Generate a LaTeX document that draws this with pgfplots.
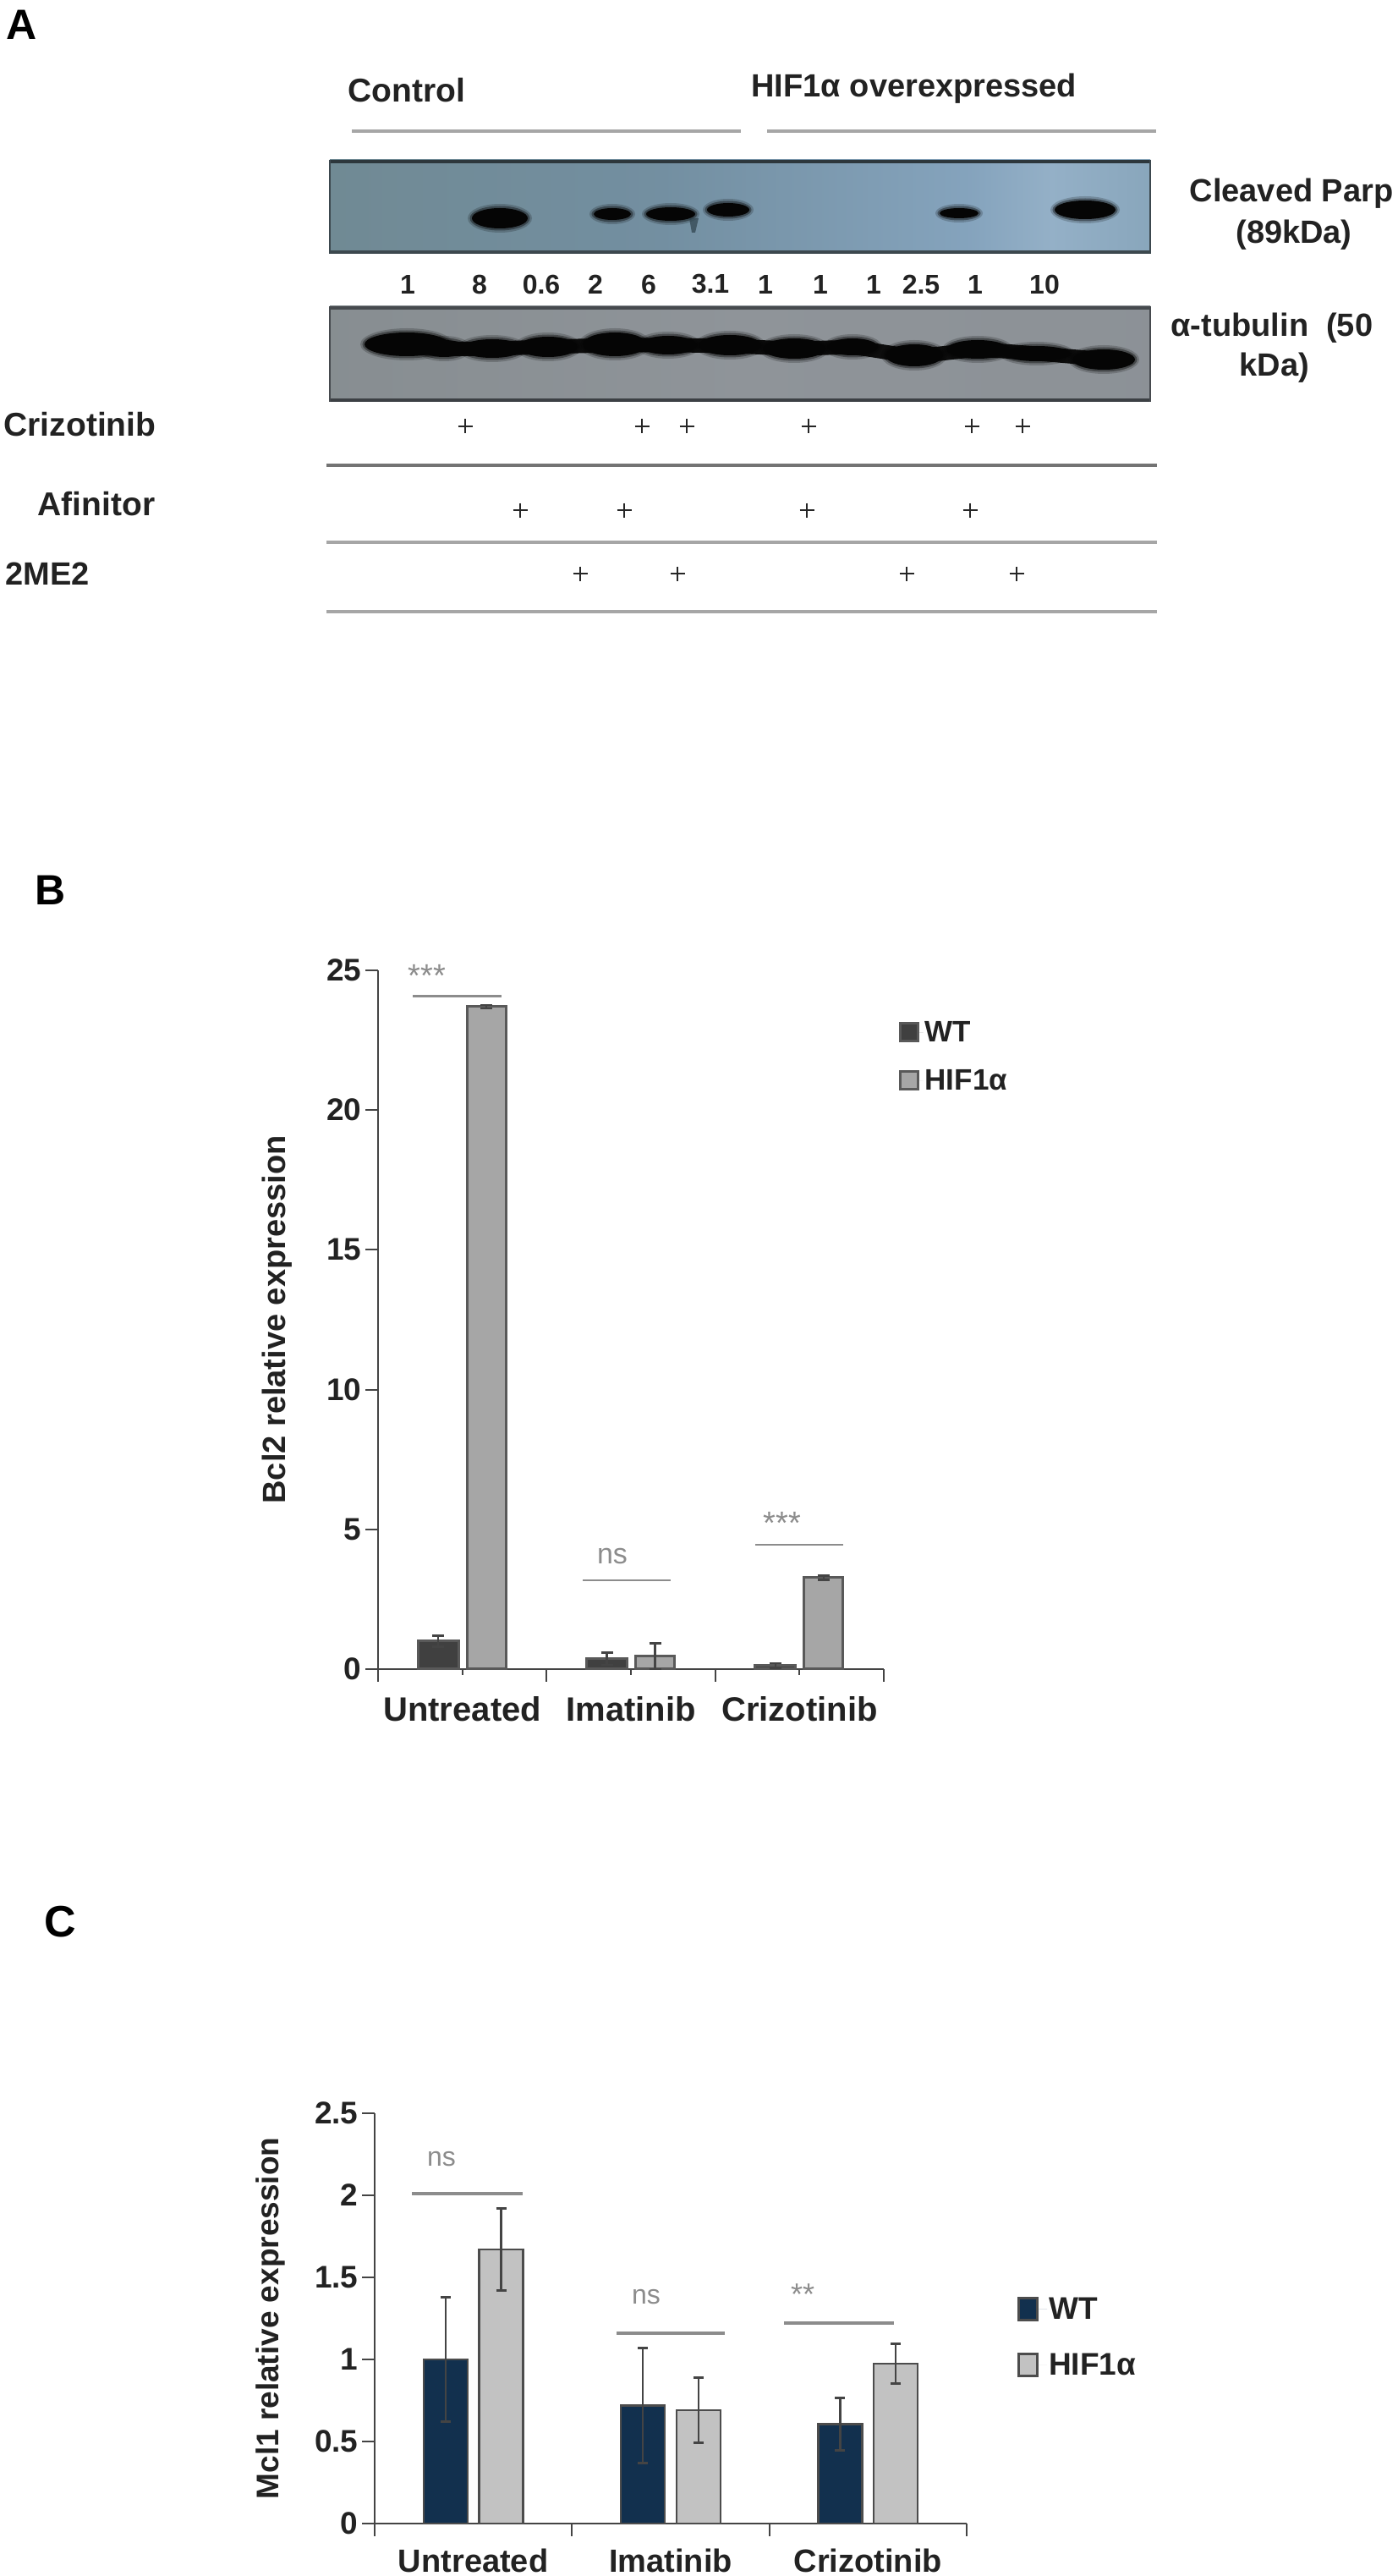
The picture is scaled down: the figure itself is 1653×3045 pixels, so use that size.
\documentclass[border=0pt]{standalone}
\usepackage{fontspec}
\setmainfont{Liberation Sans}
\usepackage{pgfplots}
\usepackage{pgfplotstable}
\pgfplotsset{compat=1.18}
\newcommand\fs[1]{\fontsize{#1}{#1}\selectfont}
\definecolor{axgray}{HTML}{444444}
\definecolor{sig}{HTML}{8C8C8C}
\definecolor{wtb}{HTML}{404040}
\definecolor{hifb}{HTML}{A6A6A6}
\definecolor{wtc}{HTML}{12304E}
\definecolor{hifc}{HTML}{C2C2C2}
\definecolor{lab}{HTML}{222222}
\pgfdeclarehorizontalshading{blotone}{100bp}{
  rgb(0bp)=(0.42,0.50,0.53);
  rgb(25bp)=(0.44,0.54,0.58);
  rgb(45bp)=(0.45,0.56,0.63);
  rgb(64bp)=(0.52,0.64,0.74);
  rgb(69bp)=(0.58,0.69,0.78);
  rgb(80bp)=(0.50,0.62,0.70);
  rgb(90bp)=(0.52,0.64,0.74);
  rgb(100bp)=(0.46,0.58,0.66)}
\pgfdeclarehorizontalshading{blottwo}{100bp}{
  rgb(0bp)=(0.50,0.53,0.54);
  rgb(50bp)=(0.56,0.58,0.60);
  rgb(100bp)=(0.54,0.56,0.58)}
\newcommand\band[5][10161C]{%
  \definecolor{bc}{HTML}{#1}%
  \fill[bc,opacity=.2] (#2,#3) ellipse [x radius=#4pt+5pt,y radius=#5pt+5pt];
  \fill[bc,opacity=.4] (#2,#3) ellipse [x radius=#4pt+2.5pt,y radius=#5pt+2.5pt];
  \fill[bc] (#2,#3) ellipse [x radius=#4pt,y radius=#5pt];
}
\pgfplotstableread{
x y e
0.357 1.0 0.2
1.357 0.37 0.22
2.357 0.13 0.08
}\bwt
\pgfplotstableread{
x y e
0.643 23.7 0.06
1.643 0.46 0.46
2.643 3.27 0.08
}\bhif
\pgfplotstableread{
x y e
0.359 1.0 0.38
1.359 0.72 0.35
2.359 0.605 0.16
}\cwt
\pgfplotstableread{
x y e
0.641 1.67 0.25
1.641 0.69 0.2
2.641 0.975 0.12
}\chif
\pgfplotsset{
  chart/.style={
    scale only axis, xmin=0, xmax=3, ymin=0,
    axis x line=bottom, axis y line=left,
    axis line style={-,axgray,line width=2.5pt},
    tick align=outside,
    every tick/.style={axgray,line width=2pt},
    major tick length=7pt, minor tick length=15pt,
    xtick={0.5,1.5,2.5},
    xticklabels={Untreated,Imatinib,Crizotinib},
    minor xtick={0,1,2,3},
    y tick label style={font=\bfseries\fs{37},text=lab,xshift=-9pt},
    /pgf/number format/assume math mode=true,
    /pgf/number format/fixed,
    clip=false,
    legend cell align=left,
    legend style={draw=none,fill=none,text=lab,inner sep=0pt},
  },
}
\begin{document}
\begin{tikzpicture}[x=1pt,y=1pt]
\path[use as bounding box] (0,0) rectangle (1653pt,3045pt);
\begin{axis}[at={(0,0)},anchor=south west,scale only axis,width=1653pt,height=3045pt,
  xmin=0,xmax=1653,ymin=0,ymax=3045,y dir=reverse,hide axis,clip=false]
% panel letters
\node[font=\bfseries\fs{50},anchor=west] at (4,29) {A};
\node[font=\bfseries\fs{50},anchor=west] at (38,1052) {B};
\node[font=\bfseries\fs{52},anchor=west] at (49,2272) {C};
% header
\node[font=\bfseries\fs{39},anchor=west,text=lab] at (408,107) {Control};
\node[font=\bfseries\fs{38},anchor=west,text=lab] at (885,105) {HIF1α overexpressed};
\draw[color=black!35,line width=3.5pt] (416,155) -- (876,155);
\draw[color=black!35,line width=3.5pt] (907,155) -- (1367,155);
% blot 1
\path[shading=blotone] (390,189) rectangle (1360,300);
\draw[color={rgb,255:red,45;green,55;blue,60},line width=4pt] (390,191) -- (1360,191);
\draw[color={rgb,255:red,60;green,72;blue,78},line width=4pt] (390,298) -- (1360,298);
\draw[color={rgb,255:red,60;green,72;blue,78},line width=2pt] (390,189) -- (390,300);
\draw[color={rgb,255:red,60;green,72;blue,78},line width=2pt] (1360,189) -- (1360,300);
\band{591}{258}{33}{12}
\band[2E414C]{724}{253}{22}{7}
\band[141C24]{793}{253}{29}{8}
\band[1E2C36]{861}{248}{25}{8}
\band[3A4E5E]{1134}{252}{23}{6}
\band{1283}{248}{36}{11}
\fill[color={rgb,255:red,45;green,65;blue,75},opacity=.7] (815,258) -- (826,258) -- (822,275) -- (818,275) -- cycle;
% quantification
\foreach \t/\x in {1/482,8/567,0.6/640,2/704,6/767,3.1/840,1/905,1/970,1/1033,2.5/1089,1/1153,10/1235}{
  \edef\tmp{\noexpand\node[font=\noexpand\bfseries\noexpand\fs{32},text=lab] at (\x,336) {\t};}\tmp
}
% blot 2
\path[shading=blottwo] (390,362) rectangle (1360,475);
\draw[color={rgb,255:red,70;green,74;blue,78},line width=3.5pt] (390,364) -- (1360,364);
\draw[color={rgb,255:red,60;green,64;blue,68},line width=3.5pt] (390,473) -- (1360,473);
\draw[color={rgb,255:red,70;green,74;blue,78},line width=2pt] (390,362) -- (390,475);
\draw[color={rgb,255:red,70;green,74;blue,78},line width=2pt] (1360,362) -- (1360,475);
\addplot[smooth,color=black!95,line width=17pt,line cap=round] coordinates {(450,408)(525,412)(582,412)(648,410)(727,408)(790,408)(863,409)(939,412)(1008,411)(1081,420)(1156,414)(1226,418)(1320,426)};
\band[050505]{481}{407}{50}{14}
\band[050505]{525}{412}{28}{10}
\band[050505]{582}{412}{37}{11}
\band[050505]{648}{410}{35}{12}
\band[050505]{727}{407}{38}{14}
\band[050505]{790}{408}{34}{11}
\band[050505]{863}{408}{37}{12}
\band[050505]{939}{412}{37}{12}
\band[050505]{1008}{410}{30}{10}
\band[050505]{1081}{420}{34}{13}
\band[050505]{1156}{413}{37}{11}
\band[050505]{1226}{418}{40}{9}
\band[050505]{1305}{425}{37}{12}
% right labels
\node[font=\bfseries\fs{38},text=lab] at (1527,229) {Cleaved Parp};
\node[font=\bfseries\fs{38},text=lab] at (1530,278) {(89kDa)};
\node[font=\bfseries\fs{38},text=lab,anchor=west] at (1381,388) {α-tubulin\ \ (50};
\node[font=\bfseries\fs{38},text=lab] at (1507,435) {kDa)};
% treatments
\node[font=\bfseries\fs{39},text=lab,anchor=west] at (1,502) {Crizotinib};
\node[font=\bfseries\fs{39},text=lab,anchor=west] at (41,596) {Afinitor};
\node[font=\bfseries\fs{38},text=lab,anchor=west] at (3,678) {2ME2};
\addplot[only marks,mark=+,mark size=8.5pt,line width=2.8pt,color=black!85] coordinates {(550,504)(759,504)(812,504)(956,504)(1149,504)(1209,504)(615,603)(738,603)(954,603)(1147,603)(686,678)(801,678)(1072,678)(1202,678)};
\draw[color=black!55,line width=3.5pt] (386,550) -- (1368,550);
\draw[color=black!35,line width=3.5pt] (386,641) -- (1368,641);
\draw[color=black!35,line width=3.5pt] (386,723) -- (1368,723);
% significance B
\draw[sig,line width=3pt] (488,1177) -- (593,1177);
\draw[sig,line width=2.5pt] (689,1868) -- (793,1868);
\draw[sig,line width=2.5pt] (893,1826) -- (997,1826);
\node[font=\fs{38},text=sig] at (505,1153) {***};
\node[font=\fs{34},text=sig] at (724,1840) {ns};
\node[font=\fs{38},text=sig] at (925,1800) {***};
% significance C
\draw[sig,line width=3.5pt] (487,2593) -- (618,2593);
\draw[sig,line width=3.5pt] (729,2758) -- (857,2758);
\draw[sig,line width=3.5pt] (927,2746) -- (1057,2746);
\node[font=\fs{32},text=sig] at (522,2552) {ns};
\node[font=\fs{32},text=sig] at (764,2715) {ns};
\node[font=\fs{36},text=sig] at (949,2712) {**};
\end{axis}
% Chart B
\begin{axis}[chart,at={(447pt,1072pt)},anchor=south west,width=598pt,height=826pt,
  ymax=25,ytick={0,5,10,15,20,25},minor ytick={0,5,10,15,20,25},
  x tick label style={font=\bfseries\fs{40},text=lab,anchor=base,yshift=-55pt},
  ylabel={Bcl2 relative expression},
  ylabel style={at={(axis description cs:-0.2,0.5)},anchor=center,font=\bfseries\fs{38},text=lab},
  legend style={at={(1.03,0.929)},anchor=north west,font=\bfseries\fs{35},row sep=27pt},
  legend image code/.code={\path[draw=none] (0,0) -- (27pt,0);\draw[#1,line width=3pt] (0,-10pt) rectangle (21pt,11pt);},
  ]
\addplot[ybar,bar width=48pt,bar shift=0pt,fill=wtb,draw=black!65,line width=3pt,
  error bars/.cd,y dir=both,y explicit,error bar style={line width=2.5pt,color=axgray},error mark options={rotate=90,mark size=7pt,line width=2.5pt,color=axgray}]
  table[x=x,y=y,y error=e] {\bwt};
\addlegendentry{WT}
\addplot[ybar,bar width=46pt,bar shift=0pt,fill=hifb,draw=black!65,line width=3pt,
  error bars/.cd,y dir=both,y explicit,error bar style={line width=2.5pt,color=axgray},error mark options={rotate=90,mark size=7pt,line width=2.5pt,color=axgray}]
  table[x=x,y=y,y error=e] {\bhif};
\addlegendentry{HIF1α}
\end{axis}
% Chart C
\begin{axis}[chart,at={(443pt,62pt)},anchor=south west,width=700pt,height=485pt,
  ymax=2.5,ytick={0,0.5,1,1.5,2,2.5},yticklabels={0,0.5,1,1.5,2,2.5},minor ytick={0,0.5,1,1.5,2,2.5},
  major x tick style={draw=none},
  x tick label style={font=\bfseries\fs{38},text=lab,anchor=base,yshift=-50pt},
  ylabel={Mcl1 relative expression},
  ylabel style={at={(axis description cs:-0.176,0.5)},anchor=center,font=\bfseries\fs{37},text=lab},
  legend style={at={(1.085,0.555)},anchor=north west,font=\bfseries\fs{37},row sep=35pt},
  legend image code/.code={\path[draw=none] (0,0) -- (34pt,0);\draw[#1,line width=3pt] (0,-13pt) rectangle (22pt,13pt);},
  ]
\addplot[ybar,bar width=52pt,bar shift=0pt,fill=wtc,draw=black!70,line width=2.5pt,
  error bars/.cd,y dir=both,y explicit,error bar style={line width=2.5pt,color=axgray},error mark options={rotate=90,mark size=6pt,line width=3pt,color=axgray}]
  table[x=x,y=y,y error=e] {\cwt};
\addlegendentry{WT}
\addplot[ybar,bar width=52pt,bar shift=0pt,fill=hifc,draw=black!70,line width=2.5pt,
  error bars/.cd,y dir=both,y explicit,error bar style={line width=2.5pt,color=axgray},error mark options={rotate=90,mark size=6pt,line width=3pt,color=axgray}]
  table[x=x,y=y,y error=e] {\chif};
\addlegendentry{HIF1α}
\end{axis}
\end{tikzpicture}
\end{document}
